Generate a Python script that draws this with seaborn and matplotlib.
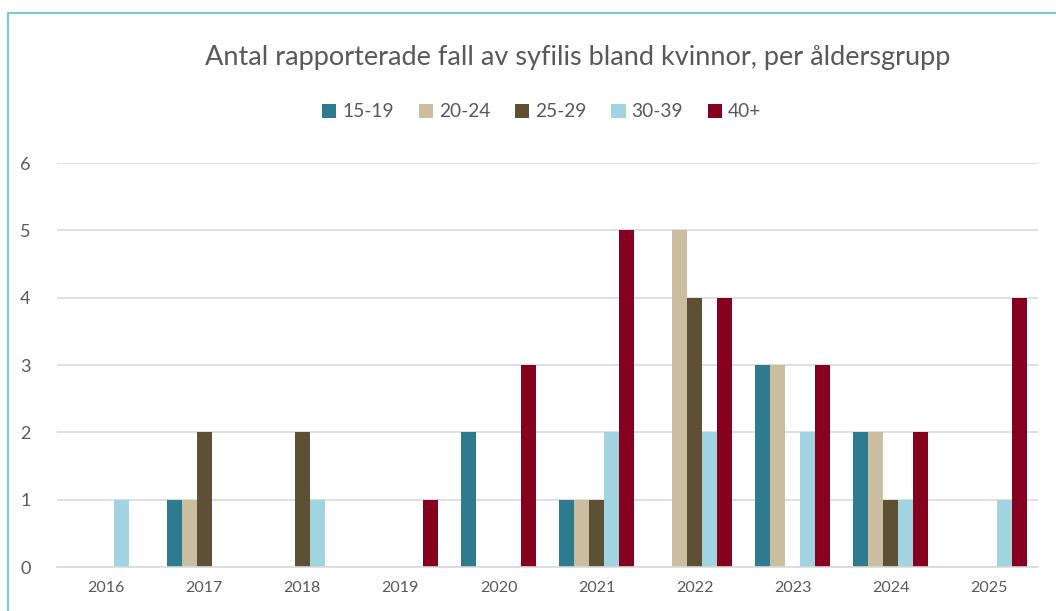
import matplotlib
matplotlib.use("agg")
import matplotlib.pyplot as plt
from matplotlib.lines import Line2D
import seaborn as sns
import pandas as pd

years = ["2016", "2017", "2018", "2019", "2020", "2021", "2022", "2023", "2024", "2025"]
groups = ["15-19", "20-24", "25-29", "30-39", "40+"]
cases_15_19 = [0, 1, 0, 0, 2, 1, 0, 3, 2, 0]
cases_20_24 = [0, 1, 0, 0, 0, 1, 5, 3, 2, 0]
cases_25_29 = [0, 2, 2, 0, 0, 1, 4, 0, 1, 0]
cases_30_39 = [1, 0, 1, 0, 0, 2, 2, 2, 1, 1]
cases_40_plus = [0, 0, 0, 1, 3, 5, 4, 3, 2, 4]
colors = ["#2E7A8E", "#CBBEA0", "#5E5034", "#A1D4E0", "#86001F"]

series = [cases_15_19, cases_20_24, cases_25_29, cases_30_39, cases_40_plus]
rows = []
for g, vals in zip(groups, series):
    for y, v in zip(years, vals):
        rows.append({"year": y, "group": g, "count": v})
df = pd.DataFrame(rows)

sns.set_style("white")
plt.rcParams["font.family"] = ["Lato", "DejaVu Sans"]
text_col = "#595959"

fig = plt.figure(figsize=(10.56, 6.11), dpi=100)
ax = fig.add_axes([0.054, 0.072, 0.929, 0.661])

sns.barplot(data=df, x="year", y="count", hue="group", palette=colors,
            width=0.765, linewidth=0, saturation=1, ax=ax, legend=True)

ax.set_ylim(0, 6)
ax.set_yticks(range(0, 7))
ax.set_xlim(-0.5, len(years) - 0.5)
ax.yaxis.grid(True, color="#D9D9D9", linewidth=1.2)
ax.set_axisbelow(True)
ax.set_xlabel("")
ax.set_ylabel("")
for side in ["top", "right", "left"]:
    ax.spines[side].set_visible(False)
ax.spines["bottom"].set_color("#D9D9D9")
ax.spines["bottom"].set_linewidth(1.2)
ax.tick_params(axis="x", length=0, pad=10, labelsize=11.5, labelcolor=text_col)
ax.tick_params(axis="y", length=0, pad=19, labelsize=13, labelcolor=text_col)
ax.set_xticks([i + 0.5 for i in range(-1, len(years))], minor=True)
ax.tick_params(axis="x", which="minor", length=5, color="#D9D9D9", width=1.2)

handles, labels = ax.get_legend_handles_labels()
ax.get_legend().remove()
fig.legend(handles, labels, loc="center", bbox_to_anchor=(0.513, 0.817), ncol=5,
           frameon=False, fontsize=13.8, handlelength=0.75, handleheight=0.75,
           handletextpad=0.3, columnspacing=1.3, labelcolor=text_col)

fig.text(0.547, 0.906, "Antal rapporterade fall av syfilis bland kvinnor, per åldersgrupp",
         ha="center", va="center", fontsize=19.5, color=text_col)

# chart frame (left and top edges visible)
frame_col = "#84C6D3"
fig.add_artist(Line2D([8 / 1056, 8 / 1056], [0, 1 - 13 / 611], color=frame_col,
                      linewidth=1.6, transform=fig.transFigure))
fig.add_artist(Line2D([8 / 1056, 1], [1 - 13 / 611, 1 - 13 / 611], color=frame_col,
                      linewidth=1.6, transform=fig.transFigure))

fig.savefig("out.png", dpi=100)
